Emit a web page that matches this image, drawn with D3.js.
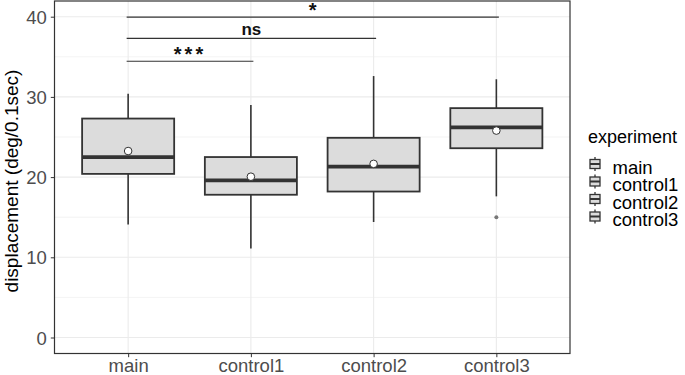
<!DOCTYPE html>
<html>
<head>
<meta charset="utf-8">
<script src="https://cdn.jsdelivr.net/npm/d3@7"></script>
<style>
  body { margin: 0; background: #fff; }
  svg { font-family: "Liberation Sans", Arial, sans-serif; }
</style>
</head>
<body>
<svg width="685" height="375"></svg>
<script>
const categories = ['main', 'control1', 'control2', 'control3'];
const whiskerLow = [14.1, 11.1, 14.4, 17.6];
const q1Values = [20.4, 17.8, 18.2, 23.6];
const medians = [22.5, 19.6, 21.3, 26.2];
const q3Values = [27.3, 22.5, 24.9, 28.6];
const whiskerHigh = [30.4, 29.0, 32.6, 32.2];
const means = [23.25, 20.05, 21.65, 25.8];
const outliers = [{ group: 'control3', value: 15.0 }];

const comparisons = [
  { from: 'main', to: 'control1', y: 34.45, label: '***' },
  { from: 'main', to: 'control2', y: 37.3, label: 'ns' },
  { from: 'main', to: 'control3', y: 39.95, label: '*' }
];

const yTicks = [0, 10, 20, 30, 40];
const yMinorTicks = [5, 15, 25, 35];
const yAxisLabelText = 'displacement (deg/0.1sec)';
const legendTitleText = 'experiment';

const svg = d3.select('svg');

const panel = { left: 54.5, right: 570, top: 1, bottom: 353.5 };

const xScale = d3.scalePoint()
  .domain(categories)
  .range([panel.left, panel.right])
  .padding(0.6);

const yScale = d3.scaleLinear()
  .domain([0, 40])
  .range([337.5, 16.7]);

const boxWidth = xScale.step() * 0.75;
const grid = '#ebebeb';
const dark = '#333333';
const tickFont = 18.5;

// grid
const gridG = svg.append('g');
gridG.selectAll('.minor').data(yMinorTicks)
  .enter().append('line')
    .attr('x1', panel.left).attr('x2', panel.right)
    .attr('y1', d => yScale(d)).attr('y2', d => yScale(d))
    .attr('stroke', grid).attr('stroke-width', 0.6);
gridG.selectAll('.major').data(yTicks)
  .enter().append('line')
    .attr('x1', panel.left).attr('x2', panel.right)
    .attr('y1', d => yScale(d)).attr('y2', d => yScale(d))
    .attr('stroke', grid).attr('stroke-width', 1.1);
gridG.selectAll('.vmajor').data(categories)
  .enter().append('line')
    .attr('x1', d => xScale(d)).attr('x2', d => xScale(d))
    .attr('y1', panel.top).attr('y2', panel.bottom)
    .attr('stroke', grid).attr('stroke-width', 1.1);

// boxes
const boxes = categories.map((c, i) => ({
  group: c, lo: whiskerLow[i], q1: q1Values[i], med: medians[i],
  q3: q3Values[i], hi: whiskerHigh[i], mean: means[i]
}));

const boxG = svg.selectAll('.box').data(boxes)
  .enter().append('g');

boxG.append('line')
  .attr('x1', d => xScale(d.group)).attr('x2', d => xScale(d.group))
  .attr('y1', d => yScale(d.q3)).attr('y2', d => yScale(d.hi))
  .attr('stroke', dark).attr('stroke-width', 1.6);
boxG.append('line')
  .attr('x1', d => xScale(d.group)).attr('x2', d => xScale(d.group))
  .attr('y1', d => yScale(d.q1)).attr('y2', d => yScale(d.lo))
  .attr('stroke', dark).attr('stroke-width', 1.6);
boxG.append('rect')
  .attr('x', d => xScale(d.group) - boxWidth / 2)
  .attr('width', boxWidth)
  .attr('y', d => yScale(d.q3))
  .attr('height', d => yScale(d.q1) - yScale(d.q3))
  .attr('fill', '#dcdcdc')
  .attr('stroke', dark).attr('stroke-width', 1.8);
boxG.append('line')
  .attr('x1', d => xScale(d.group) - boxWidth / 2)
  .attr('x2', d => xScale(d.group) + boxWidth / 2)
  .attr('y1', d => yScale(d.med)).attr('y2', d => yScale(d.med))
  .attr('stroke', dark).attr('stroke-width', 3.8);
boxG.append('circle')
  .attr('cx', d => xScale(d.group))
  .attr('cy', d => yScale(d.mean))
  .attr('r', 3.8)
  .attr('fill', '#fff')
  .attr('stroke', dark).attr('stroke-width', 1);

svg.selectAll('.outlier').data(outliers)
  .enter().append('circle')
    .attr('cx', d => xScale(d.group))
    .attr('cy', d => yScale(d.value))
    .attr('r', 2)
    .attr('fill', '#777');

// significance brackets
const sigG = svg.selectAll('.sig').data(comparisons)
  .enter().append('g');
sigG.append('line')
  .attr('x1', d => xScale(d.from) - 1.5)
  .attr('x2', d => xScale(d.to) + 2.5)
  .attr('y1', d => yScale(d.y)).attr('y2', d => yScale(d.y))
  .attr('stroke', dark).attr('stroke-width', 1.1);
sigG.append('text')
  .attr('x', d => (xScale(d.from) + xScale(d.to)) / 2 + 0.5)
  .attr('y', d => yScale(d.y) - (d.label === 'ns' ? 3.5 : 0))
  .attr('text-anchor', 'middle')
  .attr('font-size', d => d.label === 'ns' ? 17 : 20)
  .attr('font-weight', 'bold')
  .attr('letter-spacing', d => d.label === '***' ? 3 : 0)
  .attr('fill', '#111')
  .text(d => d.label);

// panel border
svg.append('rect')
  .attr('x', panel.left).attr('y', panel.top)
  .attr('width', panel.right - panel.left)
  .attr('height', panel.bottom - panel.top)
  .attr('fill', 'none')
  .attr('stroke', dark).attr('stroke-width', 1.2);

// axes
const yAxisG = svg.append('g')
  .attr('transform', `translate(${panel.left},0)`)
  .call(d3.axisLeft(yScale).tickValues(yTicks).tickSize(3.7).tickPadding(4));
yAxisG.select('.domain').remove();
yAxisG.selectAll('line').attr('stroke', dark);
yAxisG.selectAll('text')
  .attr('font-size', tickFont).attr('fill', '#4d4d4d')
  .attr('font-family', '"Liberation Sans", Arial, sans-serif')
  .attr('dy', '0.36em');

const xAxisG = svg.append('g')
  .attr('transform', `translate(0,${panel.bottom})`)
  .call(d3.axisBottom(xScale).tickSize(3.7).tickPadding(2));
xAxisG.select('.domain').remove();
xAxisG.selectAll('line').attr('stroke', dark);
xAxisG.selectAll('text')
  .attr('font-size', tickFont).attr('fill', '#4d4d4d')
  .attr('font-family', '"Liberation Sans", Arial, sans-serif');

svg.append('text')
  .attr('transform', 'translate(17.5,181) rotate(-90)')
  .attr('text-anchor', 'middle')
  .attr('font-size', 19)
  .attr('fill', '#000')
  .text(yAxisLabelText);

// legend
const legend = svg.append('g').attr('transform', 'translate(588,0)');
legend.append('text')
  .attr('x', 0).attr('y', 143.3)
  .attr('font-size', 18)
  .attr('fill', '#000')
  .text(legendTitleText);

const itemY = d3.scalePoint().domain(categories).range([164, 216.5]);
const items = legend.selectAll('.item').data(categories)
  .enter().append('g')
    .attr('transform', d => `translate(0,${itemY(d)})`);
items.append('line')
  .attr('x1', 7).attr('x2', 7).attr('y1', -7).attr('y2', 7)
  .attr('stroke', dark).attr('stroke-width', 1.3);
items.append('rect')
  .attr('x', 2).attr('y', -4.5).attr('width', 10).attr('height', 9)
  .attr('fill', '#dcdcdc').attr('stroke', dark).attr('stroke-width', 1.3);
items.append('line')
  .attr('x1', 2).attr('x2', 12).attr('y1', 0).attr('y2', 0)
  .attr('stroke', dark).attr('stroke-width', 2);
items.append('text')
  .attr('x', 24.5).attr('y', 4)
  .attr('dy', '0.3em')
  .attr('font-size', 18.5)
  .attr('fill', '#000')
  .text(d => d);
</script>
</body>
</html>
